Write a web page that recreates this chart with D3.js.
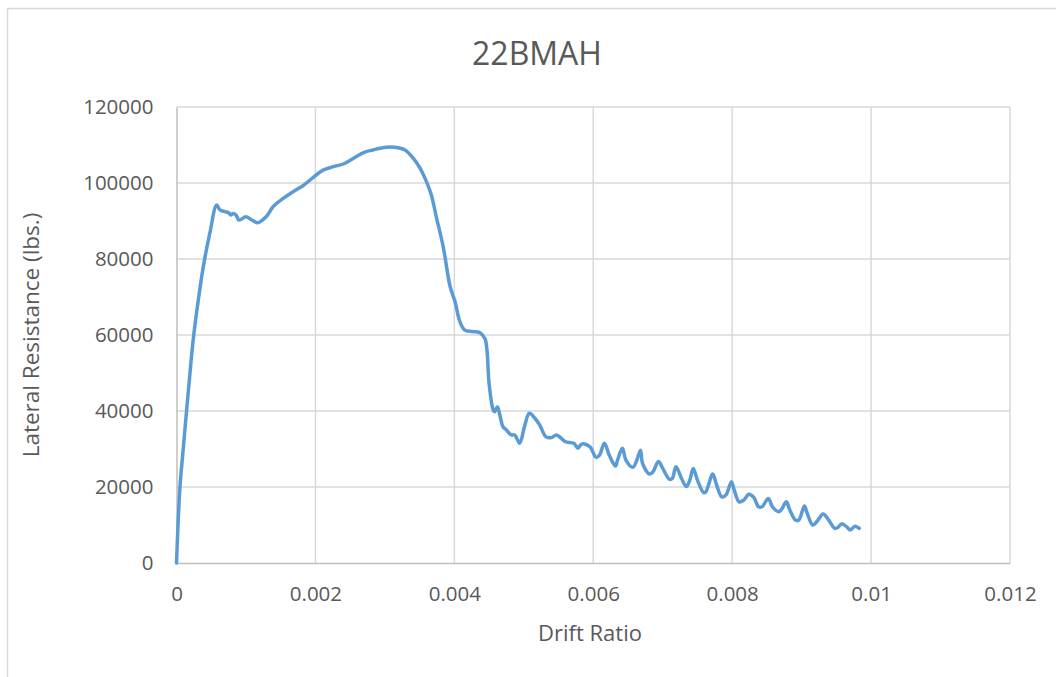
<!DOCTYPE html>
<html>
<head>
<meta charset="utf-8">
<script src="https://cdn.jsdelivr.net/npm/d3@7"></script>
<style>
  html, body { margin: 0; padding: 0; background: #fff; }
  svg { display: block; font-family: "Open Sans", sans-serif; }
</style>
</head>
<body>
<div id="chart"></div>
<script>
// Drift ratio vs lateral resistance
const drift = [
  0, 0.00005, 0.0001, 0.000146, 0.000194, 0.00024, 0.000314, 0.000386, 0.00048, 0.000578,
  0.000626, 0.000698, 0.000746, 0.00078, 0.000815, 0.000856, 0.0009, 0.001, 0.0011, 0.00117,
  0.0013, 0.00139, 0.00154, 0.00173, 0.00182, 0.00197, 0.00211, 0.00226, 0.0024, 0.00252,
  0.00271, 0.00283, 0.00302, 0.00319, 0.00329, 0.00341, 0.0035, 0.0036, 0.00367, 0.00374,
  0.00384, 0.00394, 0.00401, 0.00408, 0.00415, 0.00425, 0.00436, 0.00444, 0.00447, 0.0045,
  0.00456, 0.00458, 0.00462, 0.00465, 0.0047, 0.00475, 0.00482, 0.00487, 0.00494, 0.00501,
  0.00508, 0.00516, 0.00523, 0.00532, 0.0054, 0.00547, 0.00554, 0.0056, 0.00572, 0.00578,
  0.00583, 0.00595, 0.00604, 0.00609, 0.00616, 0.00623, 0.00632, 0.00635, 0.00642, 0.00647,
  0.00657, 0.00662, 0.00668, 0.00671, 0.00681, 0.00686, 0.00694, 0.007, 0.0071, 0.00714,
  0.00719, 0.00727, 0.00734, 0.00739, 0.00744, 0.0075, 0.00759, 0.00762, 0.00772, 0.00777,
  0.00785, 0.00791, 0.00799, 0.00803, 0.0081, 0.00817, 0.00824, 0.00831, 0.00838, 0.00843,
  0.00852, 0.00858, 0.00867, 0.00871, 0.00878, 0.00882, 0.00891, 0.00896, 0.00904, 0.00908,
  0.00916, 0.00922, 0.00931, 0.00939, 0.00948, 0.00953, 0.00958, 0.00965, 0.0097, 0.00977,
  0.00983
];
const resistance = [
  0, 20000, 30600, 40260, 50000, 58700, 69200, 78000, 86800, 94200,
  92900, 92450, 92200, 91600, 92000, 91600, 90260, 91100, 90100, 89550,
  91300, 93760, 96000, 98300, 99260, 101500, 103400, 104300, 105000, 106200,
  108100, 108700, 109400, 109300, 108700, 106500, 104100, 100300, 96800, 91100,
  83200, 72700, 68800, 63500, 61300, 60900, 60700, 59100, 56000, 47300,
  40260, 39800, 41100, 39400, 35900, 35000, 33700, 33700, 31500, 35900,
  39400, 38100, 36300, 33200, 33000, 33700, 32800, 31900, 31500, 30200,
  31300, 30600, 27800, 28400, 31500, 28400, 25500, 27100, 30200, 27100,
  25200, 26700, 29700, 26200, 23400, 24000, 26700, 24900, 22000, 22300,
  25300, 22300, 20100, 21800, 24900, 21800, 18500, 18700, 23400, 20900,
  17400, 17900, 21400, 19200, 16100, 16600, 18100, 17300, 14800, 14800,
  17000, 14800, 13500, 14100, 16100, 14400, 11300, 11300, 15000, 13100,
  10000, 10900, 12900, 11300, 9100, 9500, 10300, 9500, 8700, 9700,
  9100
];
const xTicks = [0, 0.002, 0.004, 0.006, 0.008, 0.01, 0.012];
const yTicks = [0, 20000, 40000, 60000, 80000, 100000, 120000];

const width = 1056, height = 677;
const plotLeft = 176.5, plotRight = 1010, plotTop = 107, plotBottom = 563;

const svg = d3.select("#chart").append("svg")
  .attr("width", width)
  .attr("height", height);

// chart frame (only left and top edges fall inside the picture)
svg.append("path")
  .attr("d", `M7.5,${height} V8.5 H${width}`)
  .attr("fill", "none")
  .attr("stroke", "#d9d9d9")
  .attr("stroke-width", 1.5);

const x = d3.scaleLinear().domain([0, 0.012]).range([plotLeft, plotRight]);
const y = d3.scaleLinear().domain([0, 120000]).range([plotBottom, plotTop]);

// grid
svg.append("g").selectAll("line")
  .data(yTicks.slice(1))
  .join("line")
    .attr("x1", plotLeft).attr("x2", plotRight)
    .attr("y1", d => y(d)).attr("y2", d => y(d))
    .attr("stroke", "#d9d9d9").attr("stroke-width", 1.5);

svg.append("g").selectAll("line")
  .data(xTicks.slice(1))
  .join("line")
    .attr("x1", d => x(d)).attr("x2", d => x(d))
    .attr("y1", plotTop).attr("y2", plotBottom)
    .attr("stroke", "#d9d9d9").attr("stroke-width", 1.5);

// axes
const xAxis = svg.append("g")
  .attr("transform", `translate(0,${plotBottom})`)
  .call(d3.axisBottom(x).tickValues(xTicks).tickSize(0).tickPadding(23)
    .tickFormat(d => d3.format("~g")(d)));
const yAxis = svg.append("g")
  .attr("transform", `translate(${plotLeft},0)`)
  .call(d3.axisLeft(y).tickValues(yTicks).tickSize(0).tickPadding(23)
    .tickFormat(d3.format("d")));

[xAxis, yAxis].forEach(g => {
  g.select(".domain").attr("stroke", "#bfbfbf").attr("stroke-width", 1.5);
  g.selectAll("text")
    .attr("fill", "#595959")
    .style("font-family", "'Open Sans', sans-serif")
    .style("font-size", "20.5px");
});

// series
svg.append("path")
  .datum(d3.zip(drift, resistance))
  .attr("fill", "none")
  .attr("stroke", "#5b9bd5")
  .attr("stroke-width", 3.5)
  .attr("stroke-linejoin", "round")
  .attr("stroke-linecap", "round")
  .attr("d", d3.line().x(d => x(d[0])).y(d => y(d[1])).curve(d3.curveCatmullRom));

// titles
svg.append("text")
  .attr("x", 537).attr("y", 65)
  .attr("text-anchor", "middle")
  .attr("fill", "#595959")
  .style("font-size", "32px")
  .text("22BMAH");

svg.append("text")
  .attr("x", 590).attr("y", 641)
  .attr("text-anchor", "middle")
  .attr("fill", "#595959")
  .style("font-size", "22px")
  .text("Drift Ratio");

svg.append("text")
  .attr("transform", `translate(39,${(plotTop + plotBottom) / 2}) rotate(-90)`)
  .attr("text-anchor", "middle")
  .attr("fill", "#595959")
  .style("font-size", "22.5px")
  .text("Lateral Resistance (lbs.)");
</script>
</body>
</html>
